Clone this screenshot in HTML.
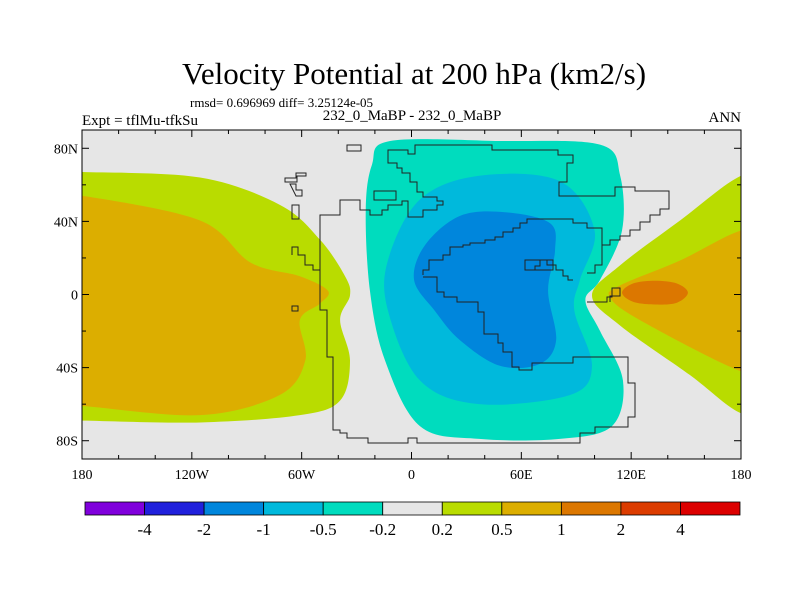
<!DOCTYPE html>
<html><head><meta charset="utf-8"><style>
body{margin:0;background:#fff;}
svg text{font-family:"Liberation Serif",serif;fill:#000;}
</style></head><body>
<svg id="chart" width="800" height="600" viewBox="0 0 800 600" xmlns="http://www.w3.org/2000/svg">
<text x="414" y="84" font-size="31" text-anchor="middle">Velocity Potential at 200 hPa (km2/s)</text>
<text x="190" y="107" font-size="13">rmsd= 0.696969 diff= 3.25124e-05</text>
<text x="82" y="125" font-size="15">Expt = tflMu-tfkSu</text>
<text x="412" y="120" font-size="15" text-anchor="middle">232_0_MaBP - 232_0_MaBP</text>
<text x="741" y="122" font-size="15" text-anchor="end">ANN</text>
<defs><clipPath id="plotclip"><rect x="82" y="130" width="659" height="329"/></clipPath></defs>
<rect x="82" y="130" width="659" height="329" fill="#e6e6e6"/>
<g id="contours" clip-path="url(#plotclip)"></g>
<g id="coast" clip-path="url(#plotclip)" fill="none" stroke="#222" stroke-width="1"></g>
<rect x="82" y="130" width="659" height="329" fill="none" stroke="#000" stroke-width="1"/>
<g id="ticks" stroke="#000" stroke-width="1"></g>
<g id="labels"></g>
<g id="colorbar"></g>
</svg>
<script>
// Contour levels and colors
const levels = ["-4","-2","-1","-0.5","-0.2","0.2","0.5","1","2","4"];
const levelColors = ["#8000dc","#2020dc","#0086dc","#00b9dc","#00dcbe","#e6e6e6","#b9dc00","#dcae00","#dc7700","#dc3c00","#dc0000"];
// Longitude / latitude ticks
const lonTicks = [-180,-120,-60,0,60,120,180];
const lonTickLabels = ["180","120W","60W","0","60E","120E","180"];
const latTicks = [80,40,0,-40,-80];
const latTickLabels = ["80N","40N","0","40S","80S"];
// Contour regions [lon,lat] with band color index
const regionLeftYellow = [[-200,67],[-180,67],[-115.5,64],[-71.8,49],[-50,30],[-36.3,10],[-33.6,-0.5],[-39,-14],[-33.6,-36],[-39,-58],[-61,-66],[-115.5,-70],[-180,-69],[-200,-69]];
const regionLeftOrange = [[-200,54],[-180,54],[-115.5,40.5],[-88,17.5],[-61,10],[-45.6,2],[-50,-5],[-61,-14],[-58,-36],[-72,-55],[-115.5,-66],[-180,-61],[-200,-61]];
const regionRightYellow = [[200,65],[180,65],[146.7,40.5],[114,16],[98.6,-0.5],[114,-17],[152,-44],[180,-65],[200,-65]];
const regionRightOrange = [[200,35],[180,35],[146.7,18.6],[114,5],[108.5,-1.6],[124.8,-14],[180,-42],[200,-42]];
const regionRightDark = [[133,7.5],[145,6],[151,1],[145,-4.5],[133,-5.5],[121,-4],[115,1],[121,6]];
const regionTeal = [[-11.7,84],[48.3,84],[103,82],[114,65],[115,35],[103,8],[95,-3],[103,-20],[115.5,-47],[109.5,-72],[81,-79],[37,-79],[4.6,-72],[-14.5,-36],[-22.7,2],[-25,46],[-21.6,71]];
const regionCyan = [[37,65],[81,62],[100,35],[92,8],[89,-9],[98.6,-39],[86.6,-55],[37,-60],[4.6,-47],[-12.8,-9],[-12.8,19],[4.6,52]];
const regionBlue = [[51,45],[75.7,39],[78.4,24],[74.6,2],[79,-25],[70,-38],[48.3,-39],[26.5,-25],[12.8,-9],[1.4,8],[7.4,27],[26.5,43]];
const regions = [["left-yellow",regionLeftYellow,6],["left-orange",regionLeftOrange,7],["right-yellow",regionRightYellow,6],["right-orange",regionRightOrange,7],["right-dark-orange",regionRightDark,8],["teal",regionTeal,4],["cyan",regionCyan,3],["blue",regionBlue,2]];

const X0=82,X1=741,Y0=130,Y1=459;
const xs = lon => X0 + (lon+180)*(X1-X0)/360;
const ys = lat => (Y0+Y1)/2 - lat*(Y1-Y0)/180;
const NS="http://www.w3.org/2000/svg";
function mk(tag,attrs,parent){const e=document.createElementNS(NS,tag);for(const k in attrs)e.setAttribute(k,attrs[k]);parent.appendChild(e);return e;}
function smooth(pts){
  const p=pts.map(q=>[xs(q[0]),ys(q[1])]);const n=p.length;let d=`M${p[0][0]},${p[0][1]}`;
  for(let i=0;i<n;i++){const a=p[(i-1+n)%n],b=p[i],c=p[(i+1)%n],e=p[(i+2)%n];
    d+=`C${b[0]+(c[0]-a[0])/6},${b[1]+(c[1]-a[1])/6} ${c[0]-(e[0]-b[0])/6},${c[1]-(e[1]-b[1])/6} ${c[0]},${c[1]}`;}
  return d+"Z";
}
const cg=document.getElementById('contours');
regions.forEach(r=>{
  const el=mk('path',{d:smooth(r[1]),fill:levelColors[r[2]]},cg);
  
  
});
// coastline (base map outline, pixel space)
const coast=document.getElementById('coast');
const coastLines=[
"M416,145H492V150H558V155H573V163H567V182H559V196H615V187H635V191H669V209H660V215H650V222H640V230H630V236H620V240H610V245H602V265H595V273H587",
"M573,280H568V276H563V270H556V265H547V260H540V266H535V270",
"M423,275V270H429V260H443V255H450V247H463V245H470V243H485V240H495V237H503V232H513V228H520V223H527V219H547V219H573V223H587V228H602V245",
"M423,277H437V292H444V297H457V302H478V312H484V334H498V343H503V352H512V367H519V370H532V363H573V357H628V383H635V417H628V427H595V433H580V443H417V438H408V443H368V438H347V433H340V430H333V357H327V310H320V270H313V265H305V255H298V247H292V255",
"M320,270V215H340V200H360V210H370V215H382V210H388V205H402V201H408V217H423V210H437V205H443V201H437V197H423V192H417V182H410V173H402V168H397V163H388V150H408V154H415V145H416",
"M347,145H361V151H347Z","M374,191H396V200H374Z","M285,178H296V173H306V176H297V182H285Z","M290,184H296V190H302V196H296Z","M292,205H299V219H292Z","M292,306H298V311H292Z","M525,260H553V270H525Z","M587,302H607V297H612V288H620V296H610V302"];
coastLines.forEach((d,i)=>{const el=mk('path',{d:d},coast);
  
  });
// ticks
const tg=document.getElementById('ticks'),lg=document.getElementById('labels');
for(let lon=-180;lon<=180;lon+=20){const major=lon%60===0;const L=major?7:4;
  mk('line',{x1:xs(lon),x2:xs(lon),y1:Y1,y2:Y1-L},tg);mk('line',{x1:xs(lon),x2:xs(lon),y1:Y0,y2:Y0+L},tg);}
for(let lat=-80;lat<=80;lat+=20){const major=lat%40===0;const L=major?7:4;
  mk('line',{x1:X0,x2:X0+L,y1:ys(lat),y2:ys(lat)},tg);mk('line',{x1:X1,x2:X1-L,y1:ys(lat),y2:ys(lat)},tg);}
lonTicks.forEach((v,i)=>{const t=mk('text',{x:xs(v),y:Y1+20,'font-size':14,'text-anchor':'middle'},lg);t.textContent=lonTickLabels[i];
  
  });
latTicks.forEach((v,i)=>{const t=mk('text',{x:X0-4,y:ys(v)+5,'font-size':14,'text-anchor':'end'},lg);t.textContent=latTickLabels[i];
  
  });
// colorbar
const cb=document.getElementById('colorbar');const bx=85,bw=655/levelColors.length,by=502,bh=13;
levelColors.forEach((c,i)=>{const r=mk('rect',{x:bx+i*bw,y:by,width:bw,height:bh,fill:c,stroke:'#000','stroke-width':0.8},cb);
  
  });
levels.forEach((l,i)=>{const t=mk('text',{x:bx+(i+1)*bw,y:535,'font-size':17,'text-anchor':'middle'},cb);t.textContent=l;
  
  });
</script>
</body></html>
